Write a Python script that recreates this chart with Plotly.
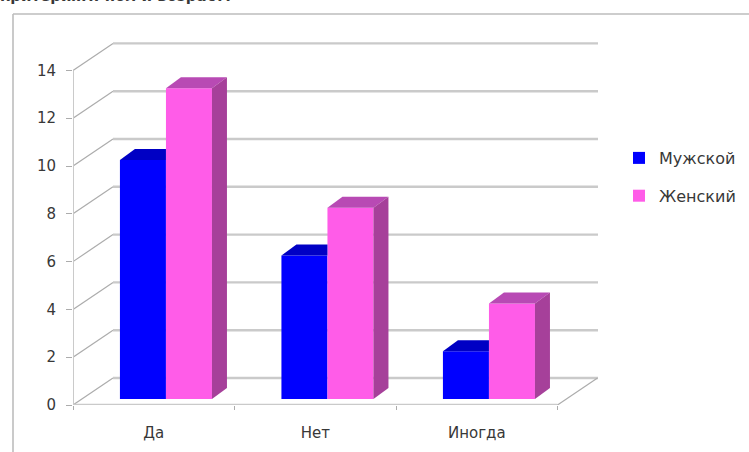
import plotly.graph_objects as go

categories = ["Да", "Нет", "Иногда"]
male = [10, 6, 2]
female = [13, 8, 4]
y_ticks = [0, 2, 4, 6, 8, 10, 12, 14]

MALE_COLOR = "#0000FF"
FEMALE_COLOR = "#FF5CE8"
MALE_TOP = "#0000C4"
FEMALE_TOP = "#B84AB4"
FEMALE_SIDE = "#A6409A"
GRID = "#CACACA"
EDGE = "#ACACAC"
FRAME = "#BDBDBD"
TEXT = "#383838"

# canvas layout in pixels
W, H = 749, 452
LEFT, RIGHT, TOP, BOTTOM = 73, 600, 40, 405
UNIT_X, UNIT_Y = 161.5, 23.9
PLOT_W, PLOT_H = RIGHT - LEFT, BOTTOM - TOP

x_max = PLOT_W / UNIT_X
y_max = PLOT_H / UNIT_Y

# oblique projection of the chart's depth, in axis units
wall_dx, wall_dy = 40 / UNIT_X, 27 / UNIT_Y
bar_dx, bar_dy = 15 / UNIT_X, 11 / UNIT_Y
bar_base = 6 / UNIT_Y
bar_w = 46 / UNIT_X
offset_m, offset_f = -0.067, 0.218
n = len(categories)

x_m = [i + 0.5 + offset_m for i in range(n)]
x_f = [i + 0.5 + offset_f for i in range(n)]


def paper_x(px):
    return (px - LEFT) / PLOT_W


def paper_y(py):
    return (BOTTOM - py) / PLOT_H


shapes = []


def line(x0, y0, x1, y1, color, width):
    shapes.append(dict(type="line", xref="x", yref="y", x0=x0, y0=y0, x1=x1, y1=y1,
                       line=dict(color=color, width=width), layer="below"))


for v in y_ticks:
    line(0, v, wall_dx, v + wall_dy, EDGE, 1.2)
    line(wall_dx, v + wall_dy, paper_x(598) * x_max, v + wall_dy, GRID, 2.4)
line(0, 0, 0, 14, GRID, 2)
line(0, 0, n, 0, GRID, 2.4)
line(n, 0, n + wall_dx, wall_dy, EDGE, 1.2)

# outer chart frame, running off the right and bottom of the page
for x0, y0, x1, y1 in [(13, 14, W, 14), (13, 14, 13, H)]:
    shapes.append(dict(type="line", xref="paper", yref="paper",
                       x0=paper_x(x0), y0=paper_y(y0), x1=paper_x(x1), y1=paper_y(y1),
                       line=dict(color=FRAME, width=1.6)))

fig = go.Figure()

fig.add_trace(go.Bar(x=x_m, y=male, base=bar_base, width=bar_w, name="Мужской",
                     legendgroup="m", marker=dict(color=MALE_COLOR, line_width=0)))
fig.add_trace(go.Bar(x=x_f, y=female, base=bar_base, width=bar_w, name="Женский",
                     legendgroup="f", marker=dict(color=FEMALE_COLOR, line_width=0)))


def face(xs, ys, color):
    fig.add_trace(go.Scatter(x=xs, y=ys, mode="lines", fill="toself", fillcolor=color,
                             line=dict(width=0), showlegend=False, hoverinfo="skip"))


half = bar_w / 2
for xc, v in zip(x_m, male):
    top = v + bar_base
    face([xc - half, xc - half + bar_dx, xc + half, xc + half, xc - half],
         [top, top + bar_dy, top + bar_dy, top, top], MALE_TOP)

for xc, v in zip(x_f, female):
    top = v + bar_base
    l, r = xc - half, xc + half
    face([l, l + bar_dx, r + bar_dx, r, l],
         [top, top + bar_dy, top + bar_dy, top, top], FEMALE_TOP)
    face([r, r + bar_dx, r + bar_dx, r, r],
         [bar_base, bar_base + bar_dy, top + bar_dy, top, bar_base], FEMALE_SIDE)

fig.update_layout(
    width=W, height=H,
    autosize=False,
    margin=dict(l=LEFT, r=W - RIGHT, t=TOP, b=H - BOTTOM, autoexpand=False),
    paper_bgcolor="white", plot_bgcolor="rgba(0,0,0,0)",
    barmode="overlay",
    font=dict(family="DejaVu Sans", size=15, color=TEXT),
    shapes=shapes,
    legend=dict(x=paper_x(619), y=paper_y(141), xanchor="left", yanchor="top",
                tracegroupgap=14, itemwidth=30, bgcolor="rgba(0,0,0,0)",
                font=dict(size=16, color=TEXT)),
    annotations=[dict(text="<b>критериям: пол и возраст?</b>", xref="paper", yref="paper",
                      x=paper_x(-2), y=paper_y(-4), xanchor="left", yanchor="middle",
                      showarrow=False, font=dict(size=15, color=TEXT))],
    xaxis=dict(range=[0, x_max], tickmode="array", tickvals=[i + 0.5 for i in range(n)],
               ticktext=categories, ticks="", showgrid=False, zeroline=False, showline=False,
               ticklabelstandoff=17, automargin=False,
               minor=dict(tickmode="array", tickvals=list(range(n + 1)), ticks="outside",
                          ticklen=4, tickcolor=EDGE, showgrid=False)),
    yaxis=dict(range=[0, y_max], tickmode="array", tickvals=y_ticks, ticks="outside",
               ticklen=6, tickcolor=EDGE, showgrid=False, zeroline=False, showline=False,
               ticklabelstandoff=7, automargin=False),
)

fig.write_html("out.html")
